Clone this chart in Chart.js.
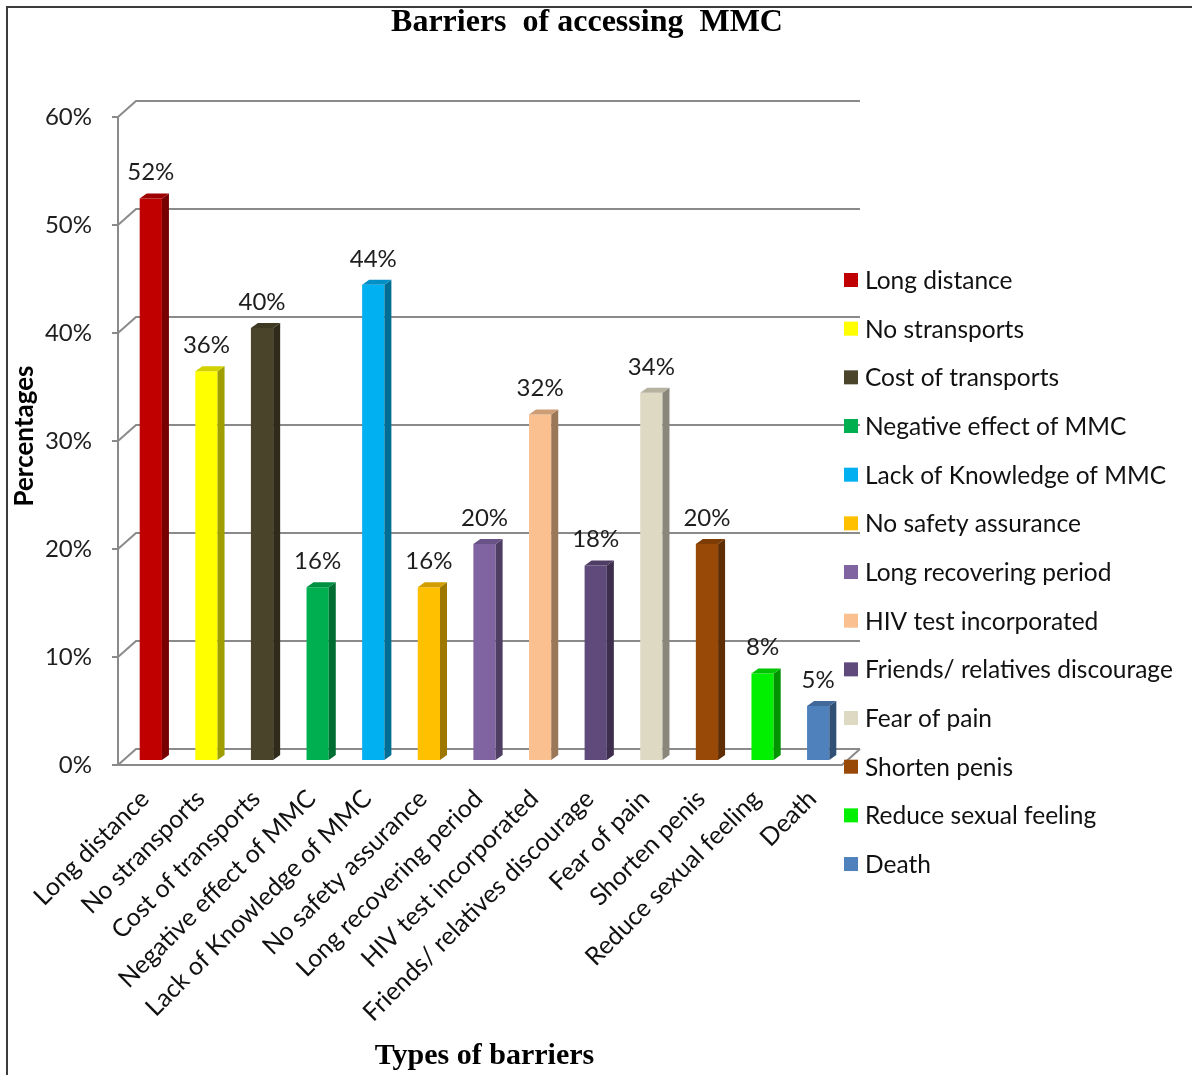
<!DOCTYPE html>
<html>
<head>
<meta charset="utf-8">
<title>Barriers of accessing MMC</title>
<script src="https://cdn.jsdelivr.net/npm/chart.js@4/dist/chart.umd.min.js"></script>
<style>
  html, body { margin: 0; padding: 0; background: #ffffff; overflow: hidden; }
  canvas { display: block; }
</style>
</head>
<body>
<canvas id="chart" width="1192" height="1075"></canvas>
<script>
// Barrier categories and the share of respondents naming each one (%)
const categories = [
  'Long distance', 'No stransports', 'Cost of transports', 'Negative effect of MMC',
  'Lack of Knowledge of MMC', 'No safety assurance', 'Long recovering period',
  'HIV test incorporated', 'Friends/ relatives discourage', 'Fear of pain',
  'Shorten penis', 'Reduce sexual feeling', 'Death'
];
const percentages = [52, 36, 40, 16, 44, 16, 20, 32, 18, 34, 20, 8, 5];
const barColors = [
  '#C00000', '#FFFF00', '#4A452A', '#00B050', '#00B0F0', '#FFC000', '#8064A2',
  '#FAC090', '#604A7B', '#DDD9C3', '#984807', '#00F000', '#4F81BD'
];
const yTickValues = [0, 10, 20, 30, 40, 50, 60];

const BODY_FONT = 'Lato';
const SERIF_FONT = '"Liberation Serif", "Times New Roman", serif';

// darken a hex colour by a factor (0..1)
function shade(hex, f) {
  const n = parseInt(hex.slice(1), 16);
  const r = Math.round(((n >> 16) & 255) * f);
  const g = Math.round(((n >> 8) & 255) * f);
  const b = Math.round((n & 255) * f);
  return `rgb(${r},${g},${b})`;
}

// pseudo-3D geometry: depth of bars and of the back wall
const BAR_DX = 7, BAR_DY = -5;
const WALL_DX = 18, WALL_DY = -16;
const FRONT_DROP = 5;   // front plane sits a little below the bar floor

const framePlugin = {
  id: 'frame3d',
  beforeDraw(chart) {
    const ctx = chart.ctx;
    ctx.save();
    ctx.fillStyle = '#ffffff';
    ctx.fillRect(0, 0, chart.width, chart.height);
    ctx.strokeStyle = '#3c3c3c';
    ctx.lineWidth = 2;
    ctx.strokeRect(7, 7, chart.width - 5, chart.height + 20);
    ctx.restore();
  },
  beforeDatasetsDraw(chart) {
    const ctx = chart.ctx;
    const ys = chart.scales.y, xs = chart.scales.x;
    const left = xs.left - 5;
    const frontRight = xs.right - 4;
    const backRight = frontRight + WALL_DX;
    ctx.save();
    ctx.strokeStyle = '#8a8a8a';
    ctx.lineWidth = 2;
    ctx.lineCap = 'butt';
    yTickValues.forEach(v => {
      const fy = ys.getPixelForValue(v) + FRONT_DROP;
      ctx.beginPath();
      ctx.moveTo(left - 6, fy);
      ctx.lineTo(left, fy);
      ctx.lineTo(left + WALL_DX, fy + WALL_DY);
      ctx.lineTo(backRight, fy + WALL_DY);
      ctx.stroke();
    });
    const y0 = ys.getPixelForValue(0) + FRONT_DROP;
    const yTop = ys.getPixelForValue(60) + FRONT_DROP;
    ctx.beginPath();
    ctx.moveTo(left, yTop);
    ctx.lineTo(left, y0);
    ctx.lineTo(frontRight, y0);
    ctx.lineTo(backRight, y0 + WALL_DY);
    ctx.stroke();
    ctx.restore();
  },
  afterDatasetsDraw(chart) {
    const ctx = chart.ctx;
    const meta = chart.getDatasetMeta(0);
    ctx.save();
    meta.data.forEach((bar, i) => {
      const { x, y, base, width } = bar.getProps(['x', 'y', 'base', 'width'], true);
      const l = x - width / 2, r = x + width / 2;
      // right side face
      ctx.fillStyle = shade(barColors[i], 0.62);
      ctx.beginPath();
      ctx.moveTo(r, y);
      ctx.lineTo(r + BAR_DX, y + BAR_DY);
      ctx.lineTo(r + BAR_DX, base + BAR_DY);
      ctx.lineTo(r, base);
      ctx.closePath();
      ctx.fill();
      // top face
      ctx.fillStyle = shade(barColors[i], 0.82);
      ctx.beginPath();
      ctx.moveTo(l, y);
      ctx.lineTo(l + BAR_DX, y + BAR_DY);
      ctx.lineTo(r + BAR_DX, y + BAR_DY);
      ctx.lineTo(r, y);
      ctx.closePath();
      ctx.fill();
      // value label
      ctx.fillStyle = '#1e1e1e';
      ctx.font = `24px ${BODY_FONT}`;
      ctx.textAlign = 'center';
      ctx.textBaseline = 'middle';
      ctx.fillText(percentages[i] + '%', x, y - 26);
    });
    ctx.restore();
  },
  afterDraw(chart) {
    const ctx = chart.ctx;
    ctx.save();
    // main title
    ctx.fillStyle = '#000000';
    ctx.font = `bold 32px ${SERIF_FONT}`;
    ctx.textAlign = 'center';
    ctx.textBaseline = 'middle';
    ctx.fillText('Barriers  of accessing  MMC', 587, 23);
    // legend
    const rowTop = 280, rowGap = 48.67;
    ctx.font = `24.5px ${BODY_FONT}`;
    ctx.textAlign = 'left';
    categories.forEach((c, i) => {
      const cy = rowTop + i * rowGap;
      ctx.fillStyle = barColors[i];
      ctx.fillRect(844, cy - 7, 14, 14);
      ctx.fillStyle = '#111111';
      ctx.fillText(c, 865, cy + 1);
    });
    ctx.restore();
  }
};

new Chart(document.getElementById('chart'), {
  type: 'bar',
  data: {
    labels: categories,
    datasets: [{
      data: percentages,
      backgroundColor: barColors,
      borderWidth: 0,
      barPercentage: 0.4,
      categoryPercentage: 1.0
    }]
  },
  options: {
    responsive: false,
    devicePixelRatio: 1,
    animation: false,
    layout: { padding: { left: 0, right: 346, top: 112, bottom: 0 } },
    plugins: {
      legend: { display: false },
      title: { display: false },
      tooltip: { enabled: false }
    },
    scales: {
      x: {
        grid: { display: false, drawTicks: false },
        border: { display: false },
        ticks: {
          autoSkip: false,
          maxRotation: 45,
          minRotation: 45,
          padding: 24,
          labelOffset: -6,
          color: '#111111',
          font: { family: BODY_FONT, size: 25 }
        },
        title: {
          display: true,
          text: 'Types of barriers',
          color: '#000000',
          font: { family: SERIF_FONT, size: 30, weight: 'bold' },
          padding: { top: 0, bottom: 1 }
        },
        afterFit(scale) { scale.height = 315; }
      },
      y: {
        min: 0,
        max: 60,
        grid: { display: false, drawTicks: false },
        border: { display: false },
        ticks: {
          stepSize: 10,
          padding: 31,
          labelOffset: FRONT_DROP,
          color: '#1e1e1e',
          font: { family: BODY_FONT, size: 24 },
          callback: v => v + '%'
        },
        title: {
          display: true,
          text: 'Percentages',
          color: '#000000',
          font: { family: BODY_FONT, size: 26, weight: 'bold' },
          padding: { top: 9, bottom: 0 }
        },
        afterFit(scale) { scale.width = 123; }
      }
    }
  },
  plugins: [framePlugin]
});
</script>
</body>
</html>
